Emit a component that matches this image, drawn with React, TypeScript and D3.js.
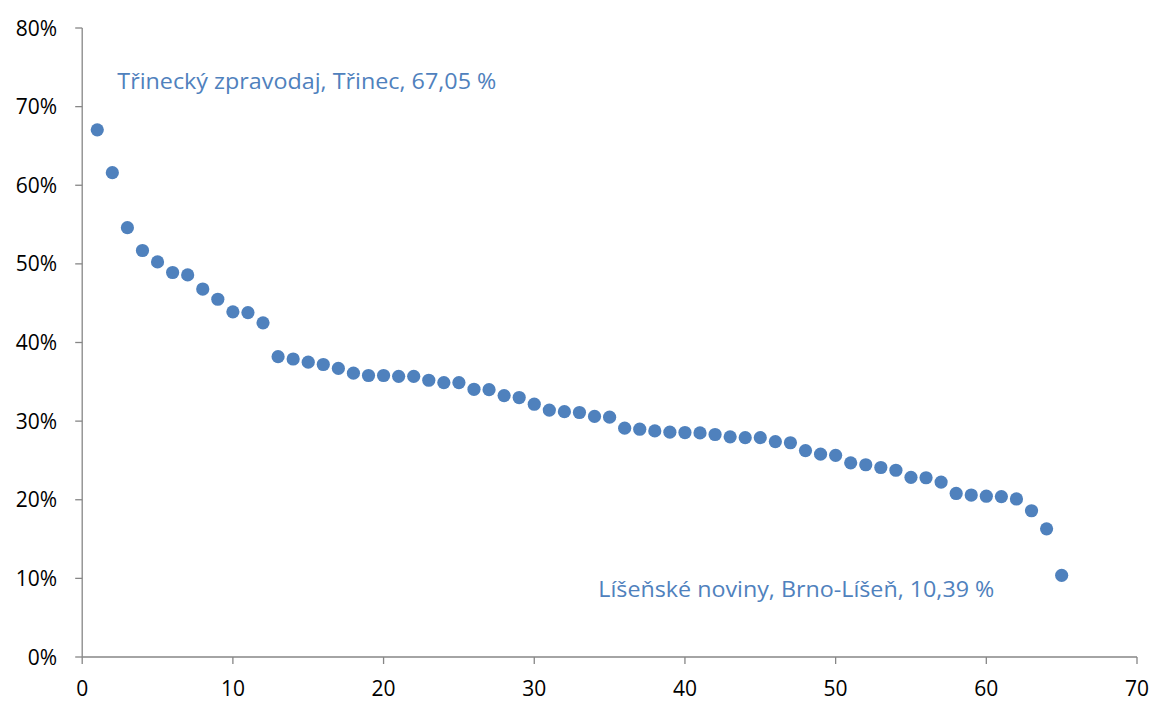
import React from "react";
import * as d3 from "d3";

const ranks: number[] = Array.from({ length: 65 }, (_, i) => i + 1);
const shares: number[] = [
  67.05, 61.6, 54.6, 51.7, 50.25, 48.9, 48.6, 46.8, 45.5, 43.9,
  43.8, 42.5, 38.2, 37.9, 37.5, 37.2, 36.7, 36.1, 35.8, 35.8,
  35.7, 35.7, 35.2, 34.9, 34.9, 34.05, 34.0, 33.25, 33.0, 32.15,
  31.4, 31.2, 31.1, 30.6, 30.5, 29.1, 28.97, 28.75, 28.6, 28.55,
  28.5, 28.3, 28.0, 27.9, 27.9, 27.4, 27.25, 26.25, 25.8, 25.65,
  24.7, 24.45, 24.1, 23.75, 22.85, 22.8, 22.25, 20.8, 20.6, 20.45,
  20.4, 20.1, 18.6, 16.3, 10.39,
];
const xTicks: number[] = [0, 10, 20, 30, 40, 50, 60, 70];
const yTicks: number[] = [0, 10, 20, 30, 40, 50, 60, 70, 80];
const annotations = [
  { text: "Třinecký zpravodaj, Třinec, 67,05 %", x: 2.33, y: 72.3, width: 379 },
  { text: "Líšeňské noviny, Brno-Líšeň, 10,39 %", x: 34.25, y: 7.6, width: 396 },
];

const W = 1152;
const H = 702;
const FONT = "'Open Sans', 'Noto Sans', sans-serif";
const BLUE = "#4F81BD";
const AXIS = "#868686";

export default function App() {
  const x = d3.scaleLinear().domain([0, 70]).range([82.2, 1137]);
  const y = d3.scaleLinear().domain([0, 80]).range([657, 28]);
  return (
    <svg
      width={W}
      height={H}
      style={{ position: "absolute", left: 0, top: 0, background: "#fff" }}
    >
      <line x1={x(0)} x2={x(0)} y1={y(80)} y2={y(0)} stroke={AXIS} strokeWidth={1.3} />
      <line x1={x(0)} x2={x(70)} y1={y(0)} y2={y(0)} stroke={AXIS} strokeWidth={1.3} />
      {yTicks.map((t) => (
        <g key={"y" + t}>
          <line x1={x(0) - 7} x2={x(0)} y1={y(t)} y2={y(t)} stroke={AXIS} strokeWidth={1.3} />
          <text
            x={57}
            y={y(t)}
            dy="0.36em"
            textAnchor="end"
            fontFamily={FONT}
            fontSize={21}
            fill="#000"
          >
            {t + "%"}
          </text>
        </g>
      ))}
      {xTicks.map((t) => (
        <g key={"x" + t}>
          <line x1={x(t)} x2={x(t)} y1={y(0)} y2={y(0) + 7} stroke={AXIS} strokeWidth={1.3} />
          <text
            x={x(t)}
            y={696}
            textAnchor="middle"
            fontFamily={FONT}
            fontSize={21}
            fill="#000"
          >
            {t}
          </text>
        </g>
      ))}
      {shares.map((v, i) => (
        <circle key={i} cx={x(ranks[i])} cy={y(v)} r={6.6} fill={BLUE} />
      ))}
      {annotations.map((a) => (
        <text
          key={a.text}
          x={x(a.x)}
          y={y(a.y)}
          fontFamily={FONT}
          fontSize={21}
          fill={BLUE}
          textLength={a.width}
          lengthAdjust="spacingAndGlyphs"
        >
          {a.text}
        </text>
      ))}
    </svg>
  );
}
